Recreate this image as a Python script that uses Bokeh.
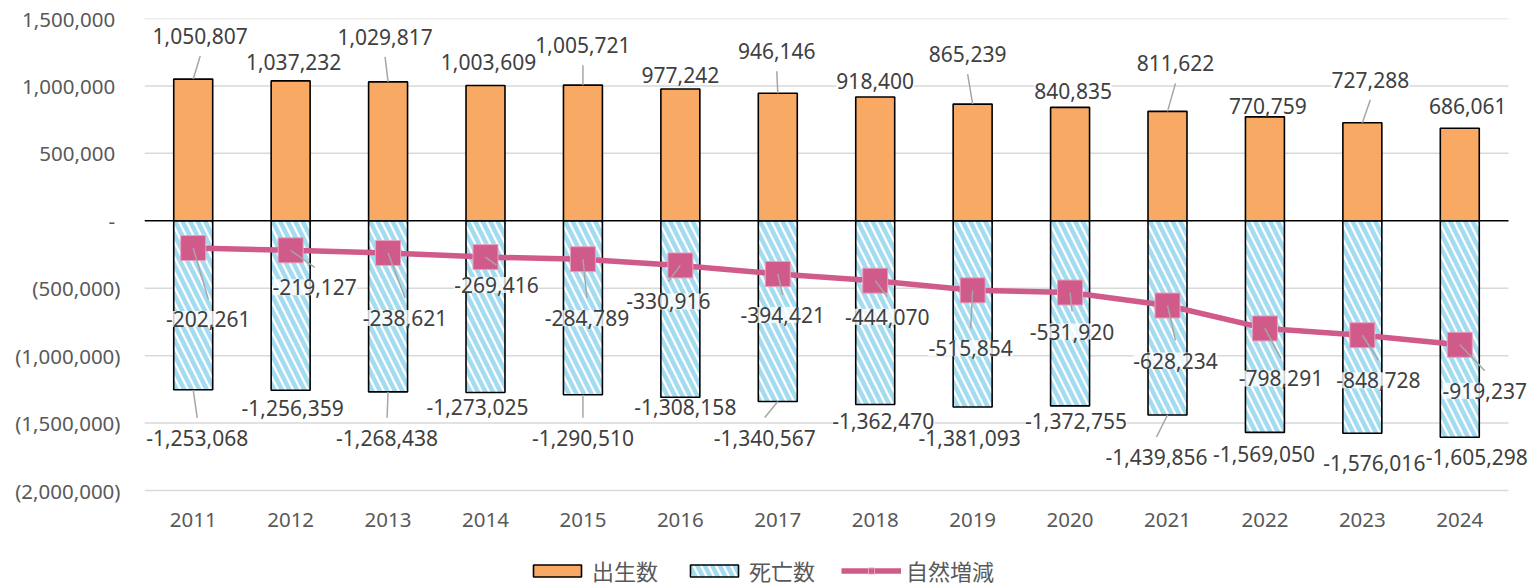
from bokeh.plotting import figure
from bokeh.models import (ColumnDataSource, Range1d, FixedTicker, CustomJSTickFormatter,
                          Legend, LegendItem, LabelSet)
from bokeh.embed import file_html
from bokeh.resources import INLINE
from bokeh.core.properties import value

# ---------------- data ----------------
years = [2011, 2012, 2013, 2014, 2015, 2016, 2017, 2018, 2019, 2020, 2021, 2022, 2023, 2024]
births = [1050807, 1037232, 1029817, 1003609, 1005721, 977242, 946146, 918400,
          865239, 840835, 811622, 770759, 727288, 686061]
deaths = [-1253068, -1256359, -1268438, -1273025, -1290510, -1308158, -1340567, -1362470,
          -1381093, -1372755, -1439856, -1569050, -1576016, -1605298]
natural = [-202261, -219127, -238621, -269416, -284789, -330916, -394421, -444070,
           -515854, -531920, -628234, -798291, -848728, -919237]
y_ticks = [-2000000, -1500000, -1000000, -500000, 0, 500000, 1000000, 1500000]
series_names = ["出生数", "死亡数", "自然増減"]

# ---------------- layout (label offsets in screen px, +dy = down) ----------------
b_dx = [7, 3, -3, 3, 0, 0, -1, 0, -5, 3, 8, 3, 8, 8]
b_dy = [-43, -19, -45, -23, -40, -14, -42, -16, -50, -16, -48, -11, -43, -22]
b_lead = [1, 0, 1, 0, 1, 0, 1, 0, 1, 0, 1, 0, 1, 0]
d_dx = [4, 2, -1, -8, 0, 5, -13, 8, -3, 6, -11, -1, 12, 17]
d_dy = [48, 18, 46, 15, 43, 10, 36, 16, 31, 15, 42, 22, 30, 20]
d_lead = [1, 0, 1, 0, 1, 0, 1, 0, 0, 0, 1, 0, 0, 0]
n_dx = [15, 24, 17, 11, 4, -12, 5, 12, -2, 2, 8, 16, 16, 25]
n_dy = [71, 37, 65, 28, 59, 36, 41, 36, 58, 39, 55, 50, 45, 46]
n_lead = [1] * 14

W, H = 1530, 588
BL, BT = 144, 18
PLOT_W, PLOT_H = 1364, 472          # visible plotting area (grid extent)
XA, XB = 2010.5, 2024.5             # category extent
YA, YB = -2000000, 1500000          # value extent
XPX = (XB - XA) / PLOT_W
YPX = (YB - YA) / PLOT_H
# frame extends to the canvas edge so labels/legend are not clipped
X_END = XB + (W - BL - PLOT_W) * XPX
Y_END = YA - (H - BT - PLOT_H) * YPX

FONT = "Noto Sans"
LABEL_COLOR = "#404040"
AXIS_COLOR = "#595959"
ORANGE = "#F8A963"
HATCH = "#A3DCF0"
PINK = "#D05A89"
LEADER = "#A6A6A6"

p = figure(width=W, height=H,
           x_range=Range1d(XA, X_END), y_range=Range1d(Y_END, YB),
           output_backend="svg", toolbar_location=None,
           min_border_left=BL, min_border_right=0, min_border_top=BT, min_border_bottom=0)
p.outline_line_color = None
p.background_fill_color = "white"
p.border_fill_color = "white"
p.xgrid.visible = False
p.ygrid.visible = False

# axes
p.yaxis.ticker = FixedTicker(ticks=y_ticks)
p.yaxis.formatter = CustomJSTickFormatter(code="""
const sp = '\\u00a0';
if (tick == 0) return '-' + sp;
const s = Math.abs(tick).toLocaleString('en-US');
return tick < 0 ? '(' + s + ')' : s + sp;
""")
p.xaxis.ticker = FixedTicker(ticks=years)
p.xaxis.formatter = CustomJSTickFormatter(code="return String(tick);")
p.xaxis.fixed_location = YA
for ax in (p.xaxis[0], p.yaxis[0]):
    ax.axis_line_color = None
    ax.major_tick_line_color = None
    ax.minor_tick_line_color = None
    ax.major_tick_out = 0
    ax.major_tick_in = 0
    ax.major_label_text_font = FONT
    ax.major_label_text_font_size = "20.5px"
    ax.major_label_text_color = AXIS_COLOR
p.yaxis.major_label_standoff = 24
p.xaxis.major_label_standoff = 22

# horizontal grid lines (only across the plotting area)
grid_y = [t for t in y_ticks if t != 0]
p.segment(x0=[XA] * len(grid_y), x1=[XB] * len(grid_y), y0=grid_y, y1=grid_y,
          line_color="#D9D9D9", line_width=1.5)

# bars
src = ColumnDataSource(dict(x=years, births=births, deaths=deaths, natural=natural))
r_b = p.vbar(x="x", top="births", bottom=0, width=0.40, source=src,
             fill_color=ORANGE, line_color="black", line_width=1.6)
r_d = p.vbar(x="x", top=0, bottom="deaths", width=0.40, source=src,
             fill_color="white", hatch_pattern="left_diagonal_line", hatch_color=HATCH,
             hatch_weight=4.5, hatch_scale=15, line_color="black", line_width=1.6)

# zero line
p.segment(x0=[XA], x1=[XB], y0=[0], y1=[0], line_color="black", line_width=1.5)

# natural change line
r_l = p.line(x="x", y="natural", source=src, line_color=PINK, line_width=5.5)
r_m = p.scatter(x="x", y="natural", source=src, marker="square", size=25,
                fill_color=PINK, line_color="#E7A3BE", line_width=1)


def labels(vals, dx, dy, lead):
    lx = [x + a * XPX for x, a in zip(years, dx)]
    ly = [v - b * YPX for v, b in zip(vals, dy)]
    sx0, sy0, sx1, sy1 = [], [], [], []
    for x, v, a, b, f in zip(years, vals, dx, dy, lead):
        if not f:
            continue
        sgn = 1 if b > 0 else -1
        be = b - sgn * 20
        sx0.append(x)
        sy0.append(v)
        sx1.append(x + a * XPX)
        sy1.append(v - be * YPX)
    p.segment(x0=sx0, y0=sy0, x1=sx1, y1=sy1, line_color=LEADER, line_width=1.5)
    return dict(x=lx, y=ly, t=[f"{v:,}" for v in vals])


lab_sets = [labels(births, b_dx, b_dy, b_lead),
            labels(deaths, d_dx, d_dy, d_lead),
            labels(natural, n_dx, n_dy, n_lead)]
for d in lab_sets:
    ls = LabelSet(x="x", y="y", text="t", source=ColumnDataSource(d),
                  text_font=value(FONT), text_font_size=value("21px"), text_color=LABEL_COLOR,
                  text_align="center", text_baseline="middle",
                  background_fill_color="white", background_fill_alpha=0.8)
    p.add_layout(ls)

legend = Legend(items=[LegendItem(label=series_names[0], renderers=[r_b]),
                       LegendItem(label=series_names[1], renderers=[r_d]),
                       LegendItem(label=series_names[2], renderers=[r_l, r_m])],
                orientation="horizontal", location=(383, 2),
                glyph_width=60, glyph_height=15, spacing=26, label_standoff=5,
                label_text_font="Noto Sans CJK JP", label_text_font_size="22px",
                label_text_color=AXIS_COLOR, label_height=22,
                border_line_color=None, background_fill_alpha=0, padding=0, margin=0)
p.add_layout(legend)

open("out.html", "w").write(file_html(p, INLINE))
